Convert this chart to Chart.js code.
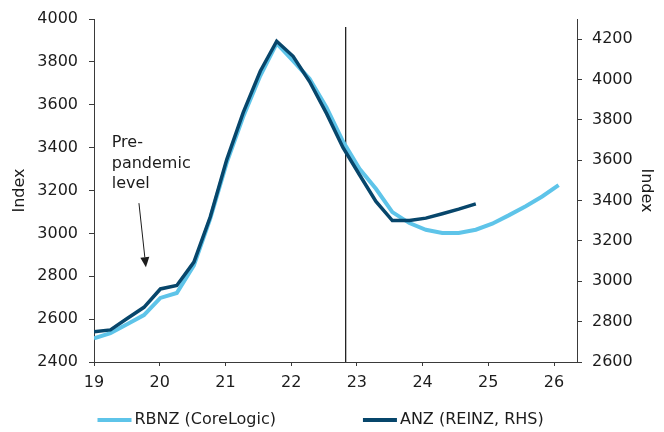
<!DOCTYPE html>
<html>
<head>
<meta charset="utf-8">
<script src="https://cdn.jsdelivr.net/npm/chart.js@4/dist/chart.umd.min.js"></script>
<style>
  html, body { margin: 0; padding: 0; background: #ffffff; }
  #wrap { width: 664px; height: 432px; }
</style>
</head>
<body>
<div id="wrap"><canvas id="c" width="664" height="432"></canvas></div>
<script>
// Quarterly observation positions on the year axis (19 = 2019)
const quarterX = [19.00, 19.25, 19.51, 19.76, 20.01, 20.26, 20.52, 20.77, 21.02, 21.27,
                  21.53, 21.78, 22.03, 22.28, 22.54, 22.79, 23.04, 23.29, 23.54, 23.80,
                  24.05, 24.30, 24.55, 24.81, 25.06, 25.31, 25.57, 25.82, 26.07];

// RBNZ (CoreLogic) house price index, left axis
const rbnzValues = [2510, 2535, 2577, 2619, 2699, 2722, 2851, 3070, 3330, 3544,
                    3735, 3886, 3805, 3721, 3586, 3428, 3301, 3208, 3099, 3048,
                    3017, 3002, 3002, 3017, 3045, 3084, 3127, 3172, 3225];

// ANZ (REINZ) house price index, right axis
const anzValues = [2750, 2759, 2817, 2871, 2962, 2979, 3095, 3320, 3603, 3836,
                   4041, 4190, 4115, 3990, 3831, 3662, 3528, 3396, 3301, 3301,
                   3313, 3335, 3358, 3384];

const xTicks = [19, 20, 21, 22, 23, 24, 25, 26];
const leftTicks = [2400, 2600, 2800, 3000, 3200, 3400, 3600, 3800, 4000];
const rightTicks = [2600, 2800, 3000, 3200, 3400, 3600, 3800, 4000, 4200];

// Divider between history and forecast
const forecastStart = 22.83;
const dividerTop = 3963;

const seriesNames = ['RBNZ (CoreLogic)', 'ANZ (REINZ, RHS)'];
const noteLines = ['Pre-', 'pandemic', 'level'];

const LIGHT = '#5ec4e9';
const DARK = '#07466b';
const INK = '#1c1c1c';
const AXIS = '#3a3a3a';
const FONT = '"DejaVu Sans", Verdana, sans-serif';

const toPoints = (xs, ys) => ys.map((v, i) => ({ x: xs[i], y: v }));

// Annotation: text and arrow placed in data coordinates
const notePlugin = {
  id: 'note',
  afterDatasetsDraw(chart) {
    const { ctx, scales } = chart;
    const x = scales.x, y = scales.y;
    ctx.save();
    ctx.fillStyle = INK;
    ctx.font = '16px ' + FONT;
    ctx.textAlign = 'left';
    ctx.textBaseline = 'middle';
    const tx = x.getPixelForValue(19.27);
    const ty = y.getPixelForValue(3422);
    noteLines.forEach((t, i) => ctx.fillText(t, tx, ty + i * 20.5));

    const x0 = x.getPixelForValue(19.684), y0 = y.getPixelForValue(3141);
    const x1 = x.getPixelForValue(19.79), y1 = y.getPixelForValue(2842);
    const ang = Math.atan2(y1 - y0, x1 - x0);
    const headLen = 10, headHalf = 4.5;
    const bx = x1 - headLen * Math.cos(ang), by = y1 - headLen * Math.sin(ang);
    ctx.strokeStyle = INK;
    ctx.lineWidth = 1;
    ctx.beginPath();
    ctx.moveTo(x0, y0);
    ctx.lineTo(bx, by);
    ctx.stroke();
    ctx.beginPath();
    ctx.moveTo(x1, y1);
    ctx.lineTo(bx + headHalf * Math.sin(ang), by - headHalf * Math.cos(ang));
    ctx.lineTo(bx - headHalf * Math.sin(ang), by + headHalf * Math.cos(ang));
    ctx.closePath();
    ctx.fill();
    ctx.restore();
  }
};

// Legend row below the axis, line markers followed by series names
const legendRowPlugin = {
  id: 'legendRow',
  afterDraw(chart) {
    const { ctx, chartArea } = chart;
    const ds = chart.data.datasets.slice(0, 2);
    ctx.save();
    ctx.font = '16px ' + FONT;
    ctx.textBaseline = 'middle';
    ctx.textAlign = 'left';
    const yMid = 420;
    const marker = 34, gap = 3, between = 87;
    let cx = chartArea.left + 3.5;
    ds.forEach(d => {
      ctx.strokeStyle = d.borderColor;
      ctx.lineWidth = 4;
      ctx.beginPath();
      ctx.moveTo(cx, yMid);
      ctx.lineTo(cx + marker, yMid);
      ctx.stroke();
      ctx.fillStyle = INK;
      ctx.fillText(d.label, cx + marker + gap, yMid);
      cx += marker + gap + ctx.measureText(d.label).width + between;
    });
    ctx.restore();
  }
};

const tickFont = { family: FONT, size: 16 };

new Chart(document.getElementById('c'), {
  type: 'line',
  data: {
    datasets: [
      {
        label: seriesNames[0],
        data: toPoints(quarterX, rbnzValues),
        borderColor: LIGHT,
        backgroundColor: LIGHT,
        borderWidth: 4,
        pointRadius: 0,
        tension: 0,
        yAxisID: 'y',
        order: 1
      },
      {
        label: seriesNames[1],
        data: toPoints(quarterX, anzValues),
        borderColor: DARK,
        backgroundColor: DARK,
        borderWidth: 3.5,
        pointRadius: 0,
        tension: 0,
        yAxisID: 'y2',
        order: 0
      },
      {
        label: 'divider',
        data: [{ x: forecastStart, y: 2400 }, { x: forecastStart, y: dividerTop }],
        borderColor: '#111111',
        borderWidth: 1.2,
        pointRadius: 0,
        yAxisID: 'y',
        order: 2
      }
    ]
  },
  options: {
    responsive: false,
    animation: false,
    devicePixelRatio: 1,
    layout: { padding: { top: 19, left: 0, right: 0, bottom: 0 } },
    plugins: {
      legend: { display: false },
      tooltip: { enabled: false }
    },
    scales: {
      x: {
        type: 'linear',
        min: 19,
        max: 26.35,
        afterFit(s) { s.height = 70; s.paddingLeft = 0; s.paddingRight = 0; },
        afterBuildTicks(s) { s.ticks = xTicks.map(v => ({ value: v })); },
        ticks: { color: INK, font: tickFont, padding: 7, maxRotation: 0, includeBounds: false,
                 callback: v => String(v) },
        grid: { display: true, drawOnChartArea: false, drawTicks: true, tickLength: 4, color: AXIS },
        border: { display: true, color: AXIS, width: 1 }
      },
      y: {
        type: 'linear',
        position: 'left',
        min: 2400,
        max: 4000,
        afterFit(s) { s.width = 94; s.paddingTop = 0; s.paddingBottom = 0; },
        afterBuildTicks(s) { s.ticks = leftTicks.map(v => ({ value: v })); },
        ticks: { color: INK, font: tickFont, padding: 11, callback: v => String(v) },
        grid: { display: true, drawOnChartArea: false, drawTicks: true, tickLength: 5, color: AXIS },
        border: { display: true, color: AXIS, width: 1 },
        title: { display: true, text: 'Index', color: INK, font: tickFont, padding: { top: 10, bottom: 0 } }
      },
      y2: {
        type: 'linear',
        position: 'right',
        min: 2600,
        max: 4300,
        afterFit(s) { s.width = 87; s.paddingTop = 0; s.paddingBottom = 0; },
        afterBuildTicks(s) { s.ticks = rightTicks.map(v => ({ value: v })); },
        ticks: { color: INK, font: tickFont, padding: 10, callback: v => String(v) },
        grid: { display: true, drawOnChartArea: false, drawTicks: true, tickLength: 5, color: AXIS },
        border: { display: true, color: AXIS, width: 1 },
        title: { display: true, text: 'Index', color: INK, font: tickFont, padding: { top: 8, bottom: 0 } }
      }
    }
  },
  plugins: [notePlugin, legendRowPlugin]
});
</script>
</body>
</html>
